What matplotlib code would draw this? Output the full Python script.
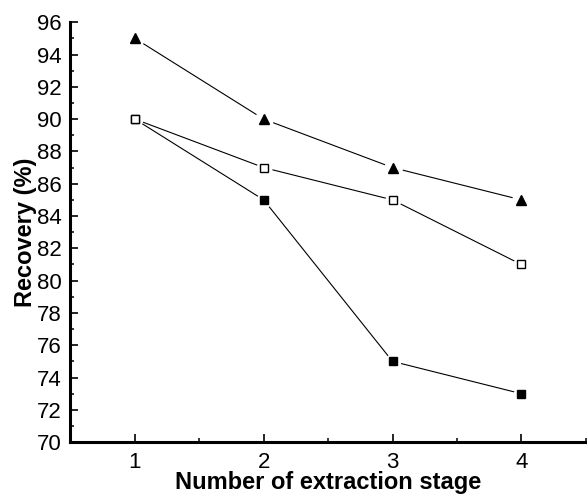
import matplotlib
matplotlib.use("Agg")
import matplotlib.pyplot as plt
from matplotlib.ticker import MultipleLocator

stages = [1, 2, 3, 4]
series_triangle = [95, 90, 87, 85]
series_open_sq = [90, 87, 85, 81]
series_filled_sq = [90, 85, 75, 73]
y_ticks = [70, 72, 74, 76, 78, 80, 82, 84, 86, 88, 90, 92, 94, 96]
x_ticks = [1, 2, 3, 4]

plt.rcParams['font.family'] = ['Liberation Sans', 'DejaVu Sans']

fig = plt.figure(figsize=(5.87, 4.94), dpi=100)
ax = fig.add_axes([0.119, 0.105, 0.881, 0.85])

def draw(y, marker, face, ms, z):
    ax.plot(stages, y, color='black', lw=0.8, zorder=2)
    ax.plot(stages, y, linestyle='none', marker='o', ms=ms + 5, mfc='white', mec='white', zorder=3)
    ax.plot(stages, y, linestyle='none', marker=marker, ms=ms, mfc=face, mec='black', mew=1.0, zorder=z)

draw(series_filled_sq, 's', 'black', 5.3, 4)
draw(series_open_sq, 's', 'white', 5.6, 5)
draw(series_triangle, '^', 'black', 7.5, 6)

ax.set_xlim(0.495, 4.51)
ax.set_ylim(70, 96)
ax.set_xticks(x_ticks)
ax.set_yticks(y_ticks)
ax.xaxis.set_minor_locator(MultipleLocator(0.5))
ax.yaxis.set_minor_locator(MultipleLocator(1))
ax.tick_params(which='major', direction='in', length=6, width=1.2, labelsize=16, pad=7)
ax.tick_params(which='minor', direction='in', length=3.2, width=1.1)
ax.tick_params(axis='y', pad=6)

for s in ['top', 'right']:
    ax.spines[s].set_visible(False)
for s in ['left', 'bottom']:
    ax.spines[s].set_linewidth(2.2)

ax.set_xlabel('Number of extraction stage', fontsize=17, fontweight='bold', labelpad=-1)
ax.set_ylabel('Recovery (%)', fontsize=17, fontweight='bold', labelpad=0)

fig.savefig('out.png', dpi=100)
